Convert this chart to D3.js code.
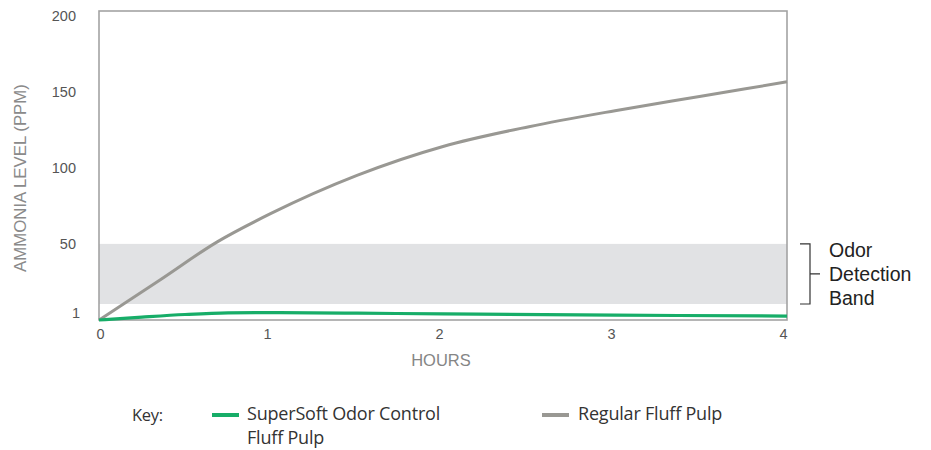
<!DOCTYPE html>
<html>
<head>
<meta charset="utf-8">
<script src="https://cdn.jsdelivr.net/npm/d3@7/dist/d3.min.js"></script>
<style>
  html, body { margin: 0; padding: 0; background: #fff; }
  svg { display: block; }
</style>
</head>
<body>
<svg id="chart" width="931" height="450"></svg>
<script>
// ---- Data ----
const hours = [0, 0.35, 0.69, 1, 1.5, 2, 2.5, 3, 3.5, 4];
const regularValues = [0, 26, 51.5, 70, 95, 114, 127, 137.5, 147, 156.5];
const superHours = [0, 0.25, 0.5, 0.75, 1, 1.5, 2, 3, 4];
const superValues = [0, 1.9, 3.6, 4.7, 4.9, 4.5, 4.0, 3.2, 2.6];
const xTicks = [0, 1, 2, 3, 4];
const yTicks = [1, 50, 100, 150, 200];
const band = [10.5, 50];
const seriesNames = ["SuperSoft Odor Control|Fluff Pulp", "Regular Fluff Pulp"];
const bandLabel = ["Odor", "Detection", "Band"];

(function () {
const svg = d3.select("#chart");
const pLeft = 99, pRight = 787, pTop = 11, pBottom = 320;
const x = d3.scaleLinear().domain([0, 4]).range([pLeft, pRight]);
const y = d3.scaleLinear().domain([0, 203]).range([pBottom, pTop]);

const GRAY = "#999893", GREEN = "#17ad68", FRAME = "#a3a3a3";
const axisFont = "'Liberation Sans', Arial, sans-serif";

// band
svg.append("rect")
  .attr("x", x(0)).attr("width", x(4) - x(0))
  .attr("y", y(band[1])).attr("height", y(band[0]) - y(band[1]))
  .attr("fill", "#e1e2e4");

// frame
svg.append("rect")
  .attr("x", pLeft).attr("y", pTop)
  .attr("width", pRight - pLeft).attr("height", pBottom - pTop)
  .attr("fill", "none").attr("stroke", FRAME).attr("stroke-width", 1.6);

// axes (labels only)
const xAxis = d3.axisBottom(x).tickValues(xTicks).tickSize(0).tickPadding(9).tickFormat(d3.format("d"));
const gx = svg.append("g").attr("transform", `translate(0,${pBottom})`).call(xAxis);
gx.select(".domain").remove();
gx.selectAll("text")
  .attr("font-family", axisFont).attr("font-size", 14.5).attr("fill", "#555")
  .attr("dx", (d, i) => i === 0 ? 1 : -4);

const yAxis = d3.axisLeft(y).tickValues(yTicks).tickSize(0).tickPadding(23).tickFormat(d3.format("d"));
const gy = svg.append("g").attr("transform", `translate(${pLeft},0)`).call(yAxis);
gy.select(".domain").remove();
gy.selectAll("text")
  .attr("font-family", axisFont).attr("font-size", 14.5).attr("fill", "#555")
  .attr("dx", d => d === 1 ? 4 : 0)
  .attr("dy", d => d === 1 ? "-0.05em" : "0.32em");

// axis titles
svg.append("text")
  .attr("x", 441).attr("y", 366)
  .attr("text-anchor", "middle")
  .attr("font-family", axisFont).attr("font-size", 16.5).attr("fill", "#858585")
  .text("HOURS");
svg.append("text")
  .attr("transform", "translate(26,178) rotate(-90)")
  .attr("text-anchor", "middle")
  .attr("font-family", axisFont).attr("font-size", 16.8).attr("fill", "#8a8a8a")
  .text("AMMONIA LEVEL (PPM)");

// lines
const line = d3.line().x(d => x(d[0])).y(d => y(d[1])).curve(d3.curveMonotoneX);
svg.append("path")
  .datum(hours.map((h, i) => [h, regularValues[i]]))
  .attr("d", line).attr("fill", "none").attr("stroke", GRAY).attr("stroke-width", 3);
svg.append("path")
  .datum(superHours.map((h, i) => [h, superValues[i]]))
  .attr("d", line).attr("fill", "none").attr("stroke", GREEN).attr("stroke-width", 3.2);

// band bracket
const bx = 810;
const by0 = y(band[1]), by1 = y(band[0]);
const bm = (by0 + by1) / 2;
svg.append("path")
  .attr("d", `M${bx - 10},${by0}H${bx}V${by1}H${bx - 10}M${bx},${bm}H${bx + 10}`)
  .attr("fill", "none").attr("stroke", "#333").attr("stroke-width", 1.2);
svg.append("g").selectAll("text").data(bandLabel).join("text")
  .attr("x", 829).attr("y", (d, i) => bm - 24 + i * 24)
  .attr("dy", "0.35em")
  .attr("font-family", axisFont).attr("font-size", 19.5).attr("fill", "#222")
  .text(d => d);

// legend
const legFont = "'Open Sans', Roboto, sans-serif";
svg.append("text").attr("x", 132).attr("y", 415).attr("dy", "0.35em")
  .attr("font-family", legFont).attr("font-size", 16.5).attr("fill", "#333")
  .attr("letter-spacing", "-0.3").text("Key:");
const legItems = [
  { color: GREEN, x0: 212, tx: 247, label: seriesNames[0] },
  { color: GRAY, x0: 542, tx: 578, label: seriesNames[1] }
];
legItems.forEach(it => {
  svg.append("line").attr("x1", it.x0).attr("x2", it.x0 + 27)
    .attr("y1", 415).attr("y2", 415)
    .attr("stroke", it.color).attr("stroke-width", 4);
  const t = svg.append("text").attr("x", it.tx).attr("y", 414)
    .attr("font-family", legFont).attr("font-size", 18).attr("fill", "#333")
    .attr("letter-spacing", "-0.2");
  it.label.split("|").forEach((s, i) => {
    t.append("tspan").attr("x", it.tx).attr("dy", i === 0 ? "0.35em" : 24).text(s);
  });
});
})();
</script>
</body>
</html>
